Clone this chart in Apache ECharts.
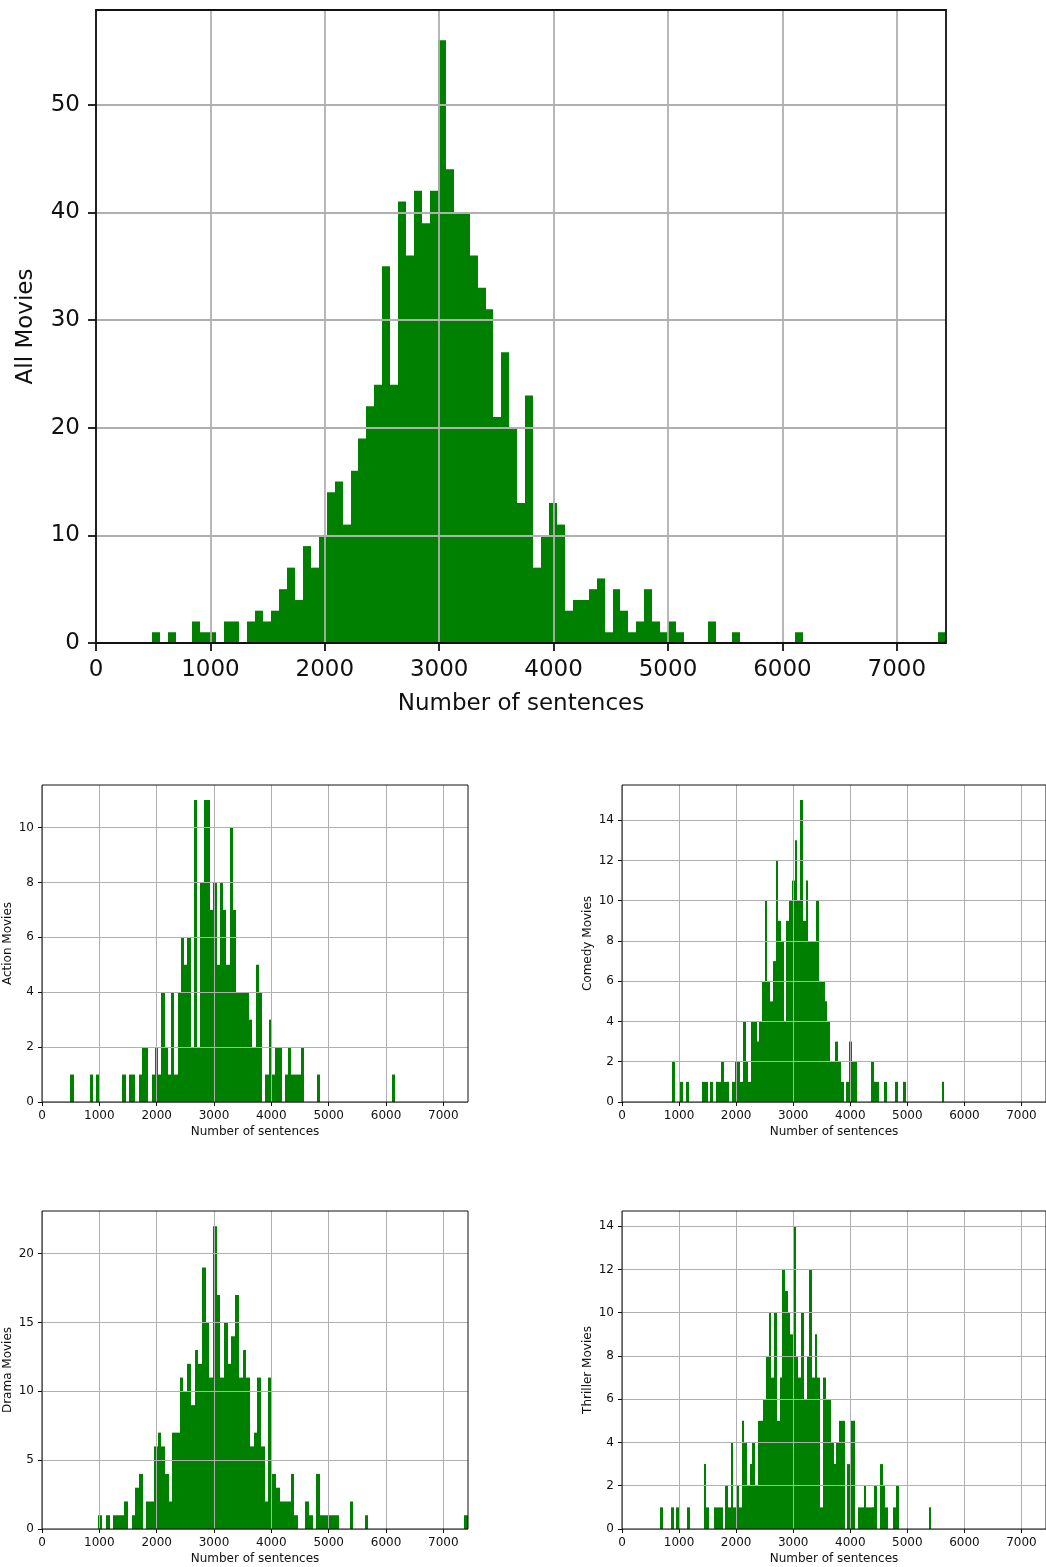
<!DOCTYPE html>
<html>
<head>
<meta charset="utf-8">
<script src="https://cdn.jsdelivr.net/npm/echarts/dist/echarts.min.js"></script>
<style>
html, body { margin: 0; padding: 0; background: #fff; }
#chart { width: 1046px; height: 1567px; }
</style>
</head>
<body>
<div id="chart"></div>
<script>
'use strict';
// every histogram has 100 bins between the first and last bin edge
var allRange = [490, 7430];
var allCounts = [
	1, 0, 1, 0, 0, 2, 1, 1, 0, 2,
	2, 0, 2, 3, 2, 3, 5, 7, 4, 9,
	7, 10, 14, 15, 11, 16, 19, 22, 24, 35,
	24, 41, 36, 42, 39, 42, 56, 44, 40, 40,
	36, 33, 31, 21, 27, 20, 13, 23, 7, 10,
	13, 11, 3, 4, 4, 5, 6, 1, 5, 3,
	1, 2, 5, 2, 1, 2, 1, 0, 0, 0,
	2, 0, 0, 1, 0, 0, 0, 0, 0, 0,
	0, 1, 0, 0, 0, 0, 0, 0, 0, 0,
	0, 0, 0, 0, 0, 0, 0, 0, 0, 1
];

var actionRange = [495, 6160];
var actionCounts = [
	1, 0, 0, 0, 0, 0, 1, 0, 1, 0,
	0, 0, 0, 0, 0, 0, 1, 0, 1, 1,
	0, 1, 2, 2, 0, 1, 2, 1, 4, 2,
	1, 4, 1, 4, 6, 5, 6, 2, 11, 2,
	8, 11, 11, 7, 8, 5, 8, 7, 5, 10,
	7, 4, 4, 4, 4, 3, 2, 5, 4, 0,
	1, 3, 1, 2, 2, 0, 1, 2, 1, 1,
	1, 2, 0, 0, 0, 0, 1, 0, 0, 0,
	0, 0, 0, 0, 0, 0, 0, 0, 0, 0,
	0, 0, 0, 0, 0, 0, 0, 0, 0, 1
];

var comedyRange = [880, 5647];
var comedyCounts = [
	2, 0, 0, 1, 0, 1, 0, 0, 0, 0,
	0, 1, 1, 0, 1, 0, 1, 1, 2, 1,
	1, 0, 1, 2, 2, 1, 4, 2, 1, 4,
	4, 3, 4, 6, 10, 6, 5, 7, 12, 9,
	8, 4, 9, 10, 11, 13, 10, 15, 9, 11,
	8, 8, 8, 10, 6, 6, 5, 4, 2, 2,
	3, 2, 1, 0, 1, 3, 2, 2, 0, 0,
	0, 0, 0, 2, 1, 1, 0, 0, 1, 0,
	0, 0, 1, 0, 0, 1, 0, 0, 0, 0,
	0, 0, 0, 0, 0, 0, 0, 0, 0, 1
];

var dramaRange = [984, 7430];
var dramaCounts = [
	1, 0, 1, 0, 1, 1, 1, 2, 0, 1,
	3, 4, 0, 2, 2, 6, 7, 6, 4, 2,
	7, 7, 11, 10, 12, 9, 13, 12, 19, 15,
	11, 22, 17, 11, 15, 12, 14, 17, 11, 13,
	11, 6, 7, 11, 6, 2, 11, 4, 3, 2,
	2, 2, 4, 1, 0, 0, 2, 1, 0, 4,
	1, 1, 1, 1, 1, 0, 0, 0, 2, 0,
	0, 0, 1, 0, 0, 0, 0, 0, 0, 0,
	0, 0, 0, 0, 0, 0, 0, 0, 0, 0,
	0, 0, 0, 0, 0, 0, 0, 0, 0, 1
];

var thrillerRange = [670, 5420];
var thrillerCounts = [
	1, 0, 0, 0, 1, 0, 1, 0, 0, 0,
	1, 0, 0, 0, 0, 0, 3, 1, 0, 0,
	1, 1, 1, 0, 2, 1, 4, 1, 2, 1,
	5, 4, 2, 3, 4, 2, 5, 5, 6, 8,
	10, 7, 10, 5, 7, 12, 11, 10, 9, 14,
	8, 7, 10, 6, 8, 12, 7, 9, 7, 1,
	7, 6, 6, 4, 3, 4, 5, 5, 0, 3,
	5, 5, 0, 1, 1, 2, 1, 1, 1, 2,
	0, 3, 2, 1, 0, 0, 1, 2, 0, 0,
	0, 0, 0, 0, 0, 0, 0, 0, 0, 1
];

var xMax = 7430;
var xTickValues = [0, 1000, 2000, 3000, 4000, 5000, 6000, 7000];
var allYTicks = [0, 10, 20, 30, 40, 50];
var actionYTicks = [0, 2, 4, 6, 8, 10];
var comedyYTicks = [0, 2, 4, 6, 8, 10, 12, 14];
var dramaYTicks = [0, 5, 10, 15, 20];
var thrillerYTicks = [0, 2, 4, 6, 8, 10, 12, 14];

var xName = 'Number of sentences';
var BAR_COLOR = '#008000';
var FONT = 'DejaVu Sans';

function binData(range, counts) {
	var step = (range[1] - range[0]) / counts.length;
	var out = [];
	for (var i = 0; i < counts.length; i++) {
		if (counts[i] > 0) {
			out.push([range[0] + i * step, range[0] + (i + 1) * step, counts[i]]);
		}
	}
	return out;
}

function renderBin(params, api) {
	var top = api.coord([api.value(0), api.value(2)]);
	var bottom = api.coord([api.value(1), 0]);
	// snap the bin edges to whole pixels so neighbouring bins join without seams
	var x0 = Math.round(top[0]);
	var x1 = Math.max(Math.round(bottom[0]), x0 + 1);
	return {
		type: 'rect',
		shape: { x: x0, y: top[1], width: x1 - x0, height: bottom[1] - top[1] },
		style: { fill: BAR_COLOR }
	};
}

function plainNumber(v) {
	return String(v);
}

// one histogram panel: grid, both axes and the series
var panels = [
	{ rect: [96, 10, 850, 633], range: allRange, counts: allCounts, yTicks: allYTicks, yName: 'All Movies',
		font: 23, line: 1.8, tick: 8, labelGap: 8, xNameGap: 50, yNameGap: 58 },
	{ rect: [42, 785, 426, 317], range: actionRange, counts: actionCounts, yTicks: actionYTicks, yName: 'Action Movies',
		font: 12, line: 1, tick: 4, labelGap: 4, xNameGap: 24, yNameGap: 28 },
	{ rect: [622, 785, 425, 317], range: comedyRange, counts: comedyCounts, yTicks: comedyYTicks, yName: 'Comedy Movies',
		font: 12, line: 1, tick: 4, labelGap: 4, xNameGap: 24, yNameGap: 28 },
	{ rect: [42, 1211, 426, 318], range: dramaRange, counts: dramaCounts, yTicks: dramaYTicks, yName: 'Drama Movies',
		font: 12, line: 1, tick: 4, labelGap: 4, xNameGap: 24, yNameGap: 28 },
	{ rect: [622, 1211, 425, 318], range: thrillerRange, counts: thrillerCounts, yTicks: thrillerYTicks, yName: 'Thriller Movies',
		font: 12, line: 1, tick: 4, labelGap: 4, xNameGap: 24, yNameGap: 28 }
];

var option = { animation: false, backgroundColor: '#fff', grid: [], xAxis: [], yAxis: [], series: [] };

panels.forEach(function (p, i) {
	var yMax = Math.max.apply(null, p.counts) * 1.05;
	var yStep = p.yTicks[1] - p.yTicks[0];
	option.grid.push({
		left: p.rect[0], top: p.rect[1], width: p.rect[2], height: p.rect[3],
		show: true, z: 4, backgroundColor: 'transparent',
		borderColor: '#111', borderWidth: p.line
	});
	option.xAxis.push({
		type: 'value', gridIndex: i, min: 0, max: xMax, interval: 1000, z: 3,
		name: xName, nameLocation: 'middle', nameGap: p.xNameGap,
		nameTextStyle: { fontFamily: FONT, fontSize: p.font, color: '#111' },
		axisLine: { show: false },
		axisTick: { show: true, length: p.tick, customValues: xTickValues, lineStyle: { color: '#111', width: p.line } },
		axisLabel: { customValues: xTickValues, formatter: plainNumber, margin: p.tick + p.labelGap,
			fontFamily: FONT, fontSize: p.font, color: '#111' },
		splitLine: { show: true, lineStyle: { color: '#b0b0b0', width: p.line } }
	});
	option.yAxis.push({
		type: 'value', gridIndex: i, min: 0, max: yMax, interval: yStep, z: 3,
		name: p.yName, nameLocation: 'middle', nameGap: p.yNameGap, nameRotate: 90,
		nameTextStyle: { fontFamily: FONT, fontSize: p.font, color: '#111' },
		axisLine: { show: false },
		axisTick: { show: true, length: p.tick, customValues: p.yTicks, lineStyle: { color: '#111', width: p.line } },
		axisLabel: { customValues: p.yTicks, formatter: plainNumber, margin: p.tick + p.labelGap,
			fontFamily: FONT, fontSize: p.font, color: '#111' },
		splitLine: { show: true, lineStyle: { color: '#b0b0b0', width: p.line } }
	});
	option.series.push({
		type: 'custom', xAxisIndex: i, yAxisIndex: i, z: 1,
		renderItem: renderBin,
		encode: { x: [0, 1], y: 2 },
		data: binData(p.range, p.counts)
	});
});

var chart = echarts.init(document.getElementById('chart'), null, { renderer: 'canvas' });
chart.setOption(option);
</script>
</body>
</html>
